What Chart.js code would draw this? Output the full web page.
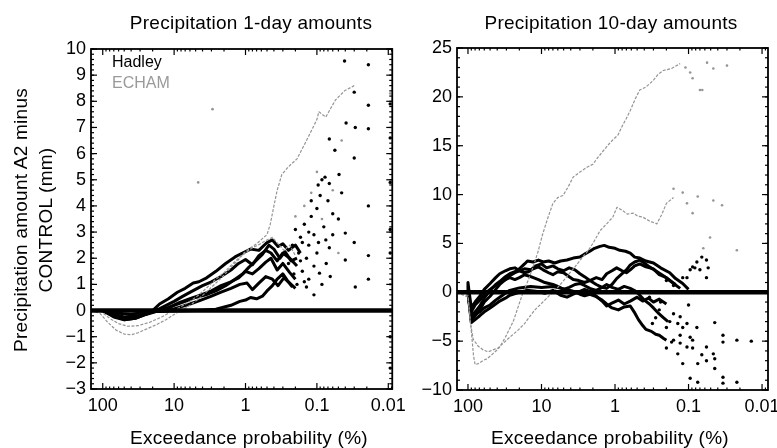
<!DOCTYPE html>
<html><head><meta charset="utf-8">
<script src="https://cdn.jsdelivr.net/npm/chart.js@4/dist/chart.umd.min.js"></script>
<style>
body{margin:0;background:#fff;width:777px;height:448px;overflow:hidden;position:relative;font-family:"Liberation Sans",Arial,sans-serif;}
canvas{position:absolute;top:0;}
.t{position:absolute;white-space:nowrap;color:#000;transform:translate(-50%,-50%);font-size:19px;letter-spacing:0.25px;line-height:1;}
.lg{position:absolute;white-space:nowrap;font-size:16px;line-height:1;transform:translateY(-50%);}
</style></head><body>
<canvas id="c1" width="412" height="448" style="left:0;width:412px;height:448px"></canvas>
<canvas id="c2" width="380" height="448" style="left:412px;width:380px;height:448px"></canvas>
<div class="t" style="left:251px;top:22px">Precipitation 1-day amounts</div>
<div class="t" style="left:611px;top:22px">Precipitation 10-day amounts</div>
<div class="t" style="left:20px;top:220px;transform:translate(-50%,-50%) rotate(-90deg)">Precipitation amount A2 minus</div>
<div class="t" style="left:45px;top:220px;transform:translate(-50%,-50%) rotate(-90deg)">CONTROL (mm)</div>
<div class="t" style="left:249px;top:437px">Exceedance probability (%)</div>
<div class="t" style="left:610px;top:437px">Exceedance probability (%)</div>
<div class="lg" style="left:112px;top:62px;color:#000">Hadley</div>
<div class="lg" style="left:112px;top:83px;color:#9a9a9a">ECHAM</div>
<script>
// ---------- tick values / labels ----------
const xTickValues = [100, 10, 1, 0.1, 0.01];
const xTickLabels = ['100', '10', '1', '0.1', '0.01'];
const yTicksLeft = [-3,-2,-1,0,1,2,3,4,5,6,7,8,9,10];
const yTicksRight = [-10,-5,0,5,10,15,20,25];

// ---------- left panel: 1-day amounts  [exceedance %, A2 - CONTROL mm] ----------
const L_zero = [[146,0],[0.0088,0]];
const L_hadley1 = [[146,0],[100,0],[75,-0.15],[50,-0.3],[35,-0.25],[25,-0.1],[20,0],[16,0.25],[12,0.45],[9,0.7],[7,0.85],[5.4,1.05],[4.5,1.1],[3.5,1.25],[2.6,1.5],[1.9,1.8],[1.4,2.05],[1.1,2.2],[0.85,2.35],[0.65,2.3],[0.5,2.6],[0.42,2.7],[0.35,2.45],[0.3,2.55],[0.25,2.3],[0.2,2.5],[0.17,2.2]];
const L_hadley2 = [[146,0],[100,0],[70,-0.2],[50,-0.35],[35,-0.3],[25,-0.15],[18,0],[14,0.15],[10,0.35],[7.5,0.55],[5.5,0.75],[4,0.95],[3,1.1],[2.2,1.3],[1.6,1.55],[1.25,1.8],[1.0,1.95],[0.8,1.75],[0.65,2.1],[0.52,2.3],[0.44,2.2],[0.36,1.9],[0.3,2.2],[0.24,2.0],[0.19,1.7]];
const L_hadley3 = [[146,0],[100,0],[70,-0.25],[50,-0.35],[35,-0.3],[25,-0.15],[16,0],[12,0.1],[8.5,0.3],[6,0.45],[4.2,0.6],[3,0.75],[2.2,0.95],[1.6,1.1],[1.25,1.25],[1.0,1.5],[0.8,1.4],[0.65,1.6],[0.52,1.85],[0.44,2.0],[0.36,1.55],[0.3,1.8],[0.24,1.45],[0.2,1.2]];
const L_hadley4 = [[146,0],[100,0],[70,-0.15],[50,-0.25],[30,-0.2],[20,-0.05],[12,0],[9,0.1],[6,0.25],[4.2,0.4],[3,0.55],[2.2,0.7],[1.6,0.85],[1.2,1.0],[0.95,1.05],[0.8,0.8],[0.65,1.05],[0.52,1.3],[0.42,1.2],[0.35,0.95],[0.29,1.25],[0.24,1.05],[0.2,0.85]];
const L_hadley5 = [[146,0],[100,0],[60,-0.1],[40,-0.15],[25,-0.05],[5,0],[2.6,0.05],[1.6,0.2],[1.2,0.35],[1.0,0.4],[0.85,0.5],[0.7,0.45],[0.58,0.55],[0.5,0.75],[0.42,0.95],[0.36,1.2],[0.3,1.4],[0.26,1.15],[0.22,0.9]];
const L_hadley6 = [[146,0],[100,0],[70,-0.2],[50,-0.3],[35,-0.25],[22,-0.05],[14,0.05],[10,0.2],[7,0.35],[5,0.5],[3.6,0.6],[2.6,0.75],[1.9,0.95],[1.4,1.2],[1.1,1.4],[0.9,1.65],[0.72,1.9],[0.58,2.15],[0.47,2.5],[0.4,2.35],[0.33,2.0],[0.28,2.25],[0.23,1.9],[0.19,2.0]];
const L_echam1 = [[146,0],[110,-0.1],[85,-0.45],[65,-0.75],[50,-0.9],[40,-0.93],[32,-0.85],[25,-0.72],[18,-0.55],[13,-0.35],[10,-0.15],[8,0],[6,0.2],[4.5,0.45],[3.4,0.75],[2.6,1.05],[2.0,1.35],[1.6,1.65],[1.3,1.9],[1.05,2.2],[0.85,2.4],[0.7,2.55],[0.58,2.75],[0.5,2.9],[0.45,3.3],[0.4,4.0],[0.36,4.6],[0.31,5.2],[0.25,5.5],[0.19,5.8],[0.14,6.5],[0.1,7.3],[0.094,7.6],[0.075,7.4],[0.055,8.05],[0.041,8.4],[0.03,8.6]];
const L_echam2 = [[146,0],[110,0],[80,-0.3],[60,-0.5],[45,-0.6],[32,-0.58],[22,-0.45],[15,-0.25],[11,-0.05],[8,0.15],[6,0.35],[4.5,0.6],[3.4,0.9],[2.6,1.2],[2,1.45],[1.5,1.8],[1.2,2.05],[1,2.2],[0.8,2.4],[0.62,2.55],[0.5,2.7],[0.42,2.8],[0.35,2.55],[0.29,2.3],[0.24,2.5],[0.2,2.1]];
const L_dotsBlack = [[0.041,9.54],[0.019,9.4],[0.03,8.35],[0.019,7.85],[0.067,6.56],[0.039,7.17],[0.029,7.0],[0.019,6.95],[0.056,6.13],[0.03,5.83],[0.077,5.1],[0.049,5.2],[0.096,4.8],[0.067,4.86],[0.06,3.7],[0.019,4.0],[0.04,2.96],[0.03,2.6],[0.019,2.1],[0.029,0.9],[0.019,1.2],[0.11,0.6],[0.04,1.93],[0.067,2.4],[0.074,1.8],[0.092,1.43],[0.0094,7.9],[0.0094,6.6],[0.0094,4.9],[0.0094,3.1],[0.0094,2.2],[0.0094,-1.0],[0.0094,-2.2],[0.2,3.1],[0.17,2.8],[0.15,3.3],[0.13,2.5],[0.12,3.6],[0.14,2.0],[0.16,1.5],[0.11,2.9],[0.1,3.9],[0.09,4.4],[0.085,5.0],[0.13,1.2],[0.19,1.0],[0.25,1.8],[0.22,2.5],[0.1,2.2],[0.08,3.2],[0.07,4.2],[0.06,2.9],[0.05,3.5],[0.045,4.5],[0.12,4.2],[0.085,1.0],[0.065,1.3],[0.14,0.9],[0.18,2.2],[0.16,2.6],[0.11,1.7],[0.095,2.6],[0.075,2.7],[0.13,3.0],[0.15,1.1],[0.21,1.4],[0.17,1.9]];
const L_dotsGray = [[0.0094,8.3],[0.0094,5.6],[0.0094,1.0],[0.1,5.3],[0.12,4.5],[0.2,3.6],[0.05,2.2],[2.9,7.7],[4.6,4.9],[0.085,3.5],[0.06,4.6],[0.15,4.0],[0.045,6.5]];

// ---------- right panel: 10-day amounts ----------
const R_zero = [[141,0],[0.0083,0]];
const R_hadley1 = [[141,0],[100,0],[90,-2.4],[80,-2.0],[69,-1.4],[60,-0.6],[50,0.2],[42,0.8],[37,1.1],[31,1.6],[27,1.9],[23,2.1],[20,2.4],[17,2.9],[15.5,3.2],[13,3.1],[11,3.3],[9.5,3.1],[8,3.2],[6.6,3.0],[5.5,3.2],[4.5,3.3],[3.7,3.5],[3.0,3.6],[2.6,3.9],[2.2,4.2],[1.9,4.5],[1.6,4.7],[1.4,4.8],[1.2,4.6],[1.0,4.5],[0.86,4.3],[0.72,4.2],[0.62,4.0],[0.54,3.6],[0.46,3.5],[0.38,3.2],[0.3,3.0],[0.24,2.5],[0.18,2.0],[0.15,1.4],[0.12,0.9],[0.1,0.3]];
const R_hadley2 = [[141,0],[100,0],[90,-2.9],[80,-2.4],[69,-1.8],[60,-1.0],[50,-0.4],[42,0.3],[37,0.8],[31,1.3],[27,1.7],[23,2.0],[20,2.2],[17,2.0],[15,2.1],[13,2.4],[11,2.6],[9.5,2.3],[8,2.0],[7,1.8],[6,2.1],[5,2.0],[4.2,1.6],[3.7,1.3],[3.1,1.2],[2.6,1.0],[2.2,1.2],[1.8,1.5],[1.5,1.3],[1.3,1.9],[1.1,2.2],[0.95,2.5],[0.8,2.2],[0.7,2.0],[0.62,2.3],[0.54,2.7],[0.46,2.9],[0.38,2.6],[0.3,2.4],[0.25,1.8],[0.2,1.5],[0.16,0.9],[0.13,0.4]];
const R_hadley3 = [[141,0],[100,0],[90,-2.7],[80,-2.3],[69,-2.0],[60,-1.6],[50,-1.3],[42,-0.8],[37,-0.5],[31,-0.1],[27,0.2],[20,0.45],[14,0.6],[10,0.5],[7,0.6],[5,0.35],[3.7,0.1],[3.0,-0.2],[2.6,-0.35],[2.2,-0.2],[1.8,-0.45],[1.5,-0.8],[1.3,-1.2],[1.1,-1.6],[0.9,-1.8],[0.75,-1.5],[0.62,-1.4],[0.55,-2.0],[0.48,-2.8],[0.42,-3.4],[0.38,-3.8],[0.32,-4.0],[0.28,-4.3],[0.25,-4.4],[0.22,-4.7],[0.2,-4.9]];
const R_hadley4 = [[141,0],[100,0],[90,-2.0],[80,-1.3],[69,-0.8],[60,-0.2],[50,0.3],[42,0.7],[37,1.0],[31,1.3],[27,1.5],[23,1.3],[20,1.5],[17,1.8],[14,1.6],[11,1.3],[9,1.0],[7,0.8],[6,0.6],[5,0.3],[4.2,0.5],[3.5,0.8],[3.0,0.9],[2.6,0.7],[2.2,0.4],[1.8,0.2],[1.5,0.5],[1.3,0.8],[1.1,0.5],[0.9,0.3],[0.75,0.6],[0.62,0.4],[0.52,0.1],[0.46,-0.3],[0.4,-0.8],[0.34,-1.2],[0.3,-1.6],[0.26,-2.1],[0.22,-2.6],[0.19,-3.0]];
const R_hadley5 = [[141,0],[100,0],[90,-3.1],[80,-2.8],[69,-2.4],[60,-2.0],[50,-1.6],[42,-1.2],[37,-0.9],[31,-0.6],[27,-0.3],[20,0],[16,0.2],[12,0.1],[9,-0.1],[7,0.2],[5.5,-0.3],[4.5,-0.5],[3.7,-0.2],[3.0,0.1],[2.6,0.3],[2.2,0.1],[1.8,-0.4],[1.5,-0.9],[1.3,-1.4],[1.1,-1.1],[0.9,-0.8],[0.75,-1.2],[0.62,-0.9],[0.5,-0.5],[0.42,-0.9],[0.35,-0.6],[0.3,-1.0],[0.25,-0.7],[0.2,-1.2]];
const R_hadley6 = [[141,0],[102,0],[100,1.0],[97,0.2],[90,-1.6],[80,-1.0],[69,-0.4],[60,0.3],[50,0.9],[42,1.5],[37,1.9],[31,2.2],[27,2.4],[23,2.5],[20,2.2],[17,2.4],[14,2.3],[12,2.7],[10,2.9],[8.5,2.5],[7,2.7],[6,2.4],[5,2.2],[4.2,2.5],[3.5,2.3],[3.0,1.9],[2.6,1.6],[2.2,1.2],[1.8,0.8],[1.5,0.5],[1.3,0.4],[1.1,0.8],[0.95,1.4],[0.8,1.9],[0.7,2.3],[0.62,2.8],[0.54,3.1],[0.46,3.3],[0.4,3.0],[0.34,2.6],[0.28,2.2],[0.22,1.7],[0.18,1.2],[0.15,0.8]];
const R_echam1 = [[141,0],[100,-0.5],[90,-4.0],[84,-6.5],[80,-7.4],[72,-7.3],[63,-7.0],[55,-6.8],[46,-6.3],[40,-5.9],[37,-5.6],[31,-4.6],[27,-3.7],[24,-2.9],[21,-1.6],[17.8,0],[15,1.3],[13,2.6],[11.2,4.1],[9.6,6.0],[8.2,7.6],[7,9.1],[6,9.7],[5.1,9.9],[4.4,10.7],[3.7,11.8],[3.0,12.3],[2.4,12.8],[2.0,13.1],[1.75,13.7],[1.4,14.6],[1.2,15.2],[1.07,15.6],[0.91,16.1],[0.8,17.0],[0.7,17.8],[0.62,18.6],[0.53,19.8],[0.46,20.7],[0.38,21.0],[0.3,21.7],[0.26,22.3],[0.22,22.7],[0.17,22.9],[0.13,23.4]];
const R_echam2 = [[141,0],[100,-0.3],[93,-3.0],[85,-4.8],[73,-5.5],[62,-5.9],[53,-6.1],[46,-5.9],[39,-5.7],[33,-5.2],[27,-4.6],[21,-3.9],[17,-3.2],[14.5,-2.5],[12.3,-1.8],[10.5,-1.3],[9,-0.8],[7.5,-0.2],[6,0.5],[5,1.2],[4.2,1.9],[3.5,2.6],[2.9,3.4],[2.3,4.3],[2.0,5.0],[1.6,6.3],[1.3,7.0],[1.07,7.7],[0.94,8.7],[0.8,8.4],[0.68,8.0],[0.57,8.1],[0.49,7.8],[0.42,7.7],[0.34,7.3],[0.27,7.0],[0.23,8.0],[0.2,9.1],[0.16,9.7]];
const R_dotsBlack = [[0.077,3.1],[0.066,3.6],[0.057,3.3],[0.095,2.3],[0.082,2.5],[0.054,2.5],[0.12,1.5],[0.1,-1.3],[0.044,-3.1],[0.034,-4.4],[0.022,-4.9],[0.034,-5.1],[0.14,-3.2],[0.12,-3.6],[0.13,-4.4],[0.095,-4.6],[0.17,-5.1],[0.2,-5.7],[0.14,-6.3],[0.088,-5.7],[0.066,-6.4],[0.057,-7.0],[0.044,-6.8],[0.075,-7.3],[0.12,-7.3],[0.044,-7.8],[0.034,-8.7],[0.075,-9.2],[0.034,-9.3],[0.022,-9.2],[0.095,-8.8],[0.34,-0.5],[0.25,-1.8],[0.16,-2.2],[0.13,-2.5],[0.31,-3.2],[0.2,-3.6],[0.105,-3.2],[0.088,-4.9],[0.13,-5.2],[0.105,-5.6],[0.16,-4.9],[0.077,-3.6],[0.057,-5.6],[0.046,-6.3],[0.088,2.6],[0.105,1.5],[0.07,2.3],[0.057,1.5],[0.014,-5.0],[0.2,1.2],[0.16,0.7],[0.24,-1.0],[0.28,-2.6],[0.18,-3.0]];
const R_dotsGray = [[0.105,9.1],[0.088,8.1],[0.046,9.4],[0.035,8.9],[0.022,4.3],[0.088,21.9],[0.065,20.7],[0.056,23.5],[0.046,22.9],[0.095,22.5],[0.063,4.5],[0.051,5.6],[0.12,10.2],[0.075,9.8],[0.03,23.2],[0.11,23.0],[0.16,10.6],[0.07,20.7]];

// ---------- drawing ----------
const BLACK = '#000', GRAY = '#959595';
const pts = a => a.map(p => ({x: p[0], y: p[1]}));
function lineDs(arr, color, width, order, dash) {
  return {data: pts(arr), showLine: true, borderColor: color, borderWidth: width, pointRadius: 0,
          borderDash: dash || [], order: order, tension: 0, borderJoinStyle: 'round', clip: 2};
}
function dotDs(arr, color, order, r) {
  return {data: pts(arr), showLine: false, pointRadius: r, pointBackgroundColor: color,
          pointBorderWidth: 0, order: order, clip: 3};
}

const frameTicks = {
  id: 'frameTicks',
  afterDatasetsDraw(chart, args, opts) {
    const {ctx, chartArea: a, scales: {x, y}} = chart;
    ctx.save();
    ctx.strokeStyle = '#000';
    const seg = (x1, y1, x2, y2) => { ctx.beginPath(); ctx.moveTo(x1, y1); ctx.lineTo(x2, y2); ctx.stroke(); };
    ctx.lineWidth = 1.2;
    for (let d = 0.001; d <= 100; d *= 10) {
      for (let m = 2; m <= 9; m++) {
        const v = d * m;
        if (v > x.max || v < x.min) continue;
        const px = x.getPixelForValue(v);
        seg(px, a.bottom, px, a.bottom - 2.5); seg(px, a.top, px, a.top + 2.5);
      }
    }
    xTickValues.forEach(v => { const px = x.getPixelForValue(v); seg(px, a.bottom, px, a.bottom - 6); seg(px, a.top, px, a.top + 6); });
    const st = opts.minorStep;
    for (let v = y.min; v <= y.max + 1e-9; v += st) {
      const py = y.getPixelForValue(v);
      seg(a.left, py, a.left + 3, py); seg(a.right, py, a.right - 3, py);
    }
    opts.major.forEach(v => { const py = y.getPixelForValue(v); seg(a.left, py, a.left + 6, py); seg(a.right, py, a.right - 6, py); });
    ctx.lineWidth = 1.8;
    ctx.strokeRect(a.left, a.top, a.right - a.left, a.bottom - a.top);
    ctx.restore();
  }
};

function makeChart(id, o) {
  return new Chart(document.getElementById(id), {
    type: 'scatter',
    data: {datasets: o.datasets},
    options: {
      responsive: false, animation: false, devicePixelRatio: 1,
      layout: {padding: o.padding},
      plugins: {legend: {display: false}, tooltip: {enabled: false}, frameTicks: {minorStep: o.minorStep, major: o.yTicks}},
      scales: {
        x: {type: 'logarithmic', reverse: true, min: o.xmin, max: o.xmax,
            grid: {display: false, drawTicks: false}, border: {display: false},
            afterBuildTicks: s => { s.ticks = xTickValues.map(v => ({value: v})); },
            afterFit: s => { s.height = o.xHeight; },
            ticks: {autoSkip: false, maxRotation: 0, padding: 6, color: '#000',
                    font: {family: 'Liberation Sans', size: 18},
                    callback: (v) => xTickLabels[xTickValues.indexOf(v)] ?? ''}},
        y: {type: 'linear', min: o.ymin, max: o.ymax,
            grid: {display: false, drawTicks: false}, border: {display: false},
            afterBuildTicks: s => { s.ticks = o.yTicks.map(v => ({value: v})); },
            afterFit: s => { s.width = o.yWidth; },
            ticks: {padding: 5, color: '#000', font: {family: 'Liberation Sans', size: 18},
                    callback: v => String(v).replace('-', '\u2212')}}
      }
    },
    plugins: [frameTicks]
  });
}

const HW = 3.0;
makeChart('c1', {
  padding: {left: 0, top: 49, right: 15, bottom: 0}, yWidth: 91, xHeight: 59,
  xmin: 0.0088, xmax: 146, ymin: -3, ymax: 10, yTicks: yTicksLeft, minorStep: 0.2,
  datasets: [
    lineDs(L_zero, BLACK, 4.5, 0),
    lineDs(L_echam1, GRAY, 1.2, 1, [3, 1.5]),
    lineDs(L_echam2, GRAY, 1.2, 1, [3, 1.5]),
    dotDs(L_dotsGray, GRAY, 1, 1.3),
    lineDs(L_hadley1, BLACK, HW, 2), lineDs(L_hadley2, BLACK, HW, 2), lineDs(L_hadley3, BLACK, HW, 2),
    lineDs(L_hadley4, BLACK, HW, 2), lineDs(L_hadley5, BLACK, HW, 2), lineDs(L_hadley6, BLACK, HW, 2),
    dotDs(L_dotsBlack, BLACK, 2, 1.7)
  ]
});

makeChart('c2', {
  padding: {left: 0, top: 48, right: 24, bottom: 0}, yWidth: 45, xHeight: 58,
  xmin: 0.0083, xmax: 141, ymin: -10, ymax: 25, yTicks: yTicksRight, minorStep: 1,
  datasets: [
    lineDs(R_zero, BLACK, 4.5, 0),
    lineDs(R_echam1, GRAY, 1.2, 1, [3, 1.5]),
    lineDs(R_echam2, GRAY, 1.2, 1, [3, 1.5]),
    dotDs(R_dotsGray, GRAY, 1, 1.3),
    lineDs(R_hadley1, BLACK, HW, 2), lineDs(R_hadley2, BLACK, HW, 2), lineDs(R_hadley3, BLACK, HW, 2),
    lineDs(R_hadley4, BLACK, HW, 2), lineDs(R_hadley5, BLACK, HW, 2), lineDs(R_hadley6, BLACK, HW, 2),
    dotDs(R_dotsBlack, BLACK, 2, 1.7)
  ]
});
</script>
</body></html>
